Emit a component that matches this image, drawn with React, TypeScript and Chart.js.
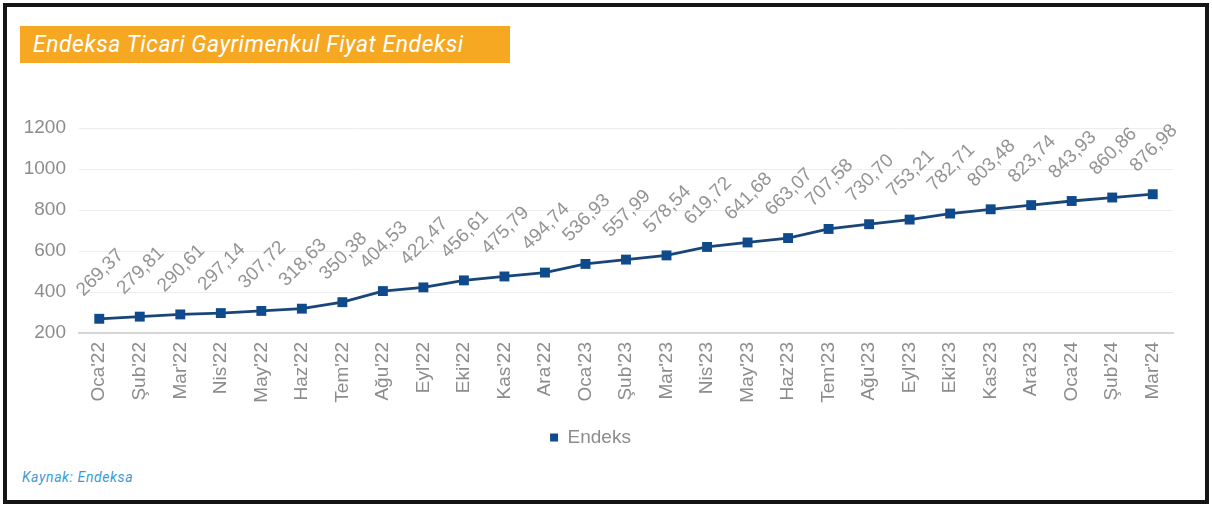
import React, { useEffect, useRef } from "react";
import { Chart, registerables } from "chart.js";

Chart.register(...registerables);

const categories = [
  "Oca'22", "Şub'22", "Mar'22", "Nis'22", "May'22", "Haz'22", "Tem'22", "Ağu'22", "Eyl'22", "Eki'22", "Kas'22", "Ara'22",
  "Oca'23", "Şub'23", "Mar'23", "Nis'23", "May'23", "Haz'23", "Tem'23", "Ağu'23", "Eyl'23", "Eki'23", "Kas'23", "Ara'23",
  "Oca'24", "Şub'24", "Mar'24",
];

const endeks = [
  269.37, 279.81, 290.61, 297.14, 307.72, 318.63, 350.38, 404.53, 422.47, 456.61, 475.79, 494.74,
  536.93, 557.99, 578.54, 619.72, 641.68, 663.07, 707.58, 730.7, 753.21, 782.71, 803.48, 823.74,
  843.93, 860.86, 876.98,
];

const yTicks = [200, 400, 600, 800, 1000, 1200];

const FONT = "'Liberation Sans', Arial, sans-serif";
const GRAY = "#8c8c8c";

const fmt = (v: number) => v.toFixed(2).replace(".", ",");

const dataLabelPlugin = {
  id: "rotatedDataLabels",
  afterDatasetsDraw(chart: any) {
    const ctx = chart.ctx;
    const meta = chart.getDatasetMeta(0);
    ctx.save();
    ctx.font = `19px ${FONT}`;
    ctx.fillStyle = "#949494";
    ctx.textAlign = "center";
    ctx.textBaseline = "middle";
    meta.data.forEach((pt: any, i: number) => {
      ctx.save();
      ctx.translate(pt.x + 1, pt.y - 46);
      ctx.rotate(-Math.PI / 4);
      ctx.fillText(fmt(endeks[i]), 0, 0);
      ctx.restore();
    });
    ctx.restore();
  },
};

export default function App() {
  const ref = useRef<HTMLCanvasElement | null>(null);

  useEffect(() => {
    if (!ref.current) return;
    const chart = new Chart(ref.current, {
      type: "line",
      data: {
        labels: categories,
        datasets: [
          {
            label: "Endeks",
            data: endeks,
            borderColor: "#1a4578",
            backgroundColor: "#0f4f94",
            borderWidth: 2.8,
            pointStyle: "rect",
            pointRadius: 7,
            pointBackgroundColor: "#0f4b8c",
            pointBorderColor: "#0f4b8c",
            pointBorderWidth: 0,
            tension: 0,
          },
        ],
      },
      options: {
        animation: false,
        responsive: false,
        maintainAspectRatio: false,
        layout: { padding: { top: 48, left: 0, right: 31, bottom: 0 } },
        plugins: {
          legend: {
            position: "bottom",
            labels: {
              usePointStyle: true,
              pointStyle: "rect",
              boxWidth: 8,
              boxHeight: 8,
              padding: 7,
              color: GRAY,
              font: { family: FONT, size: 19 },
            },
          },
          tooltip: { enabled: false },
        },
        scales: {
          x: {
            type: "category",
            offset: true,
            grid: { display: false, drawTicks: false },
            border: { display: true, color: "#d6d6d6", width: 2 },
            ticks: {
              color: GRAY,
              font: { family: FONT, size: 19 },
              minRotation: 90,
              maxRotation: 90,
              autoSkip: false,
              padding: 9,
            },
            afterFit: (s: any) => {
              s.height = 88;
            },
          },
          y: {
            min: 200,
            max: 1200,
            afterBuildTicks: (s: any) => {
              s.ticks = yTicks.map((v) => ({ value: v }));
            },
            grid: { color: "#ededed", lineWidth: 1, drawTicks: false },
            border: { display: false },
            ticks: {
              color: GRAY,
              font: { family: FONT, size: 19 },
              padding: 13,
              callback: (v: any) => String(v),
            },
            afterFit: (s: any) => {
              s.width = 71;
            },
          },
        },
      },
      plugins: [dataLabelPlugin],
    });
    return () => chart.destroy();
  }, []);

  return (
    <div style={{ position: "absolute", left: 0, top: 0, width: 1212, height: 505, background: "#fff" }}>
      <div
        style={{
          position: "absolute",
          left: 3,
          top: 3,
          width: 1206,
          height: 501,
          boxSizing: "border-box",
          border: "4px solid #151515",
        }}
      />
      <div
        style={{
          position: "absolute",
          left: 20,
          top: 26,
          width: 490,
          height: 37,
          background: "#f7a823",
          color: "#fff",
          fontFamily: "Roboto, sans-serif",
          fontStyle: "italic",
          fontSize: 23,
          letterSpacing: 0.5,
          lineHeight: "37px",
          paddingLeft: 13,
          boxSizing: "border-box",
          whiteSpace: "nowrap",
        }}
      >
        Endeksa Ticari Gayrimenkul Fiyat Endeksi
      </div>
      <canvas
        ref={ref}
        width={1196}
        height={377}
        style={{ position: "absolute", left: 8, top: 80, width: 1196, height: 377 }}
      />
      <div
        style={{
          position: "absolute",
          left: 22,
          top: 467,
          color: "#3d9ad6",
          fontFamily: "Roboto, sans-serif",
          fontStyle: "italic",
          fontSize: 14,
          letterSpacing: 0.6,
          lineHeight: "20px",
          whiteSpace: "nowrap",
        }}
      >
        Kaynak: Endeksa
      </div>
    </div>
  );
}
